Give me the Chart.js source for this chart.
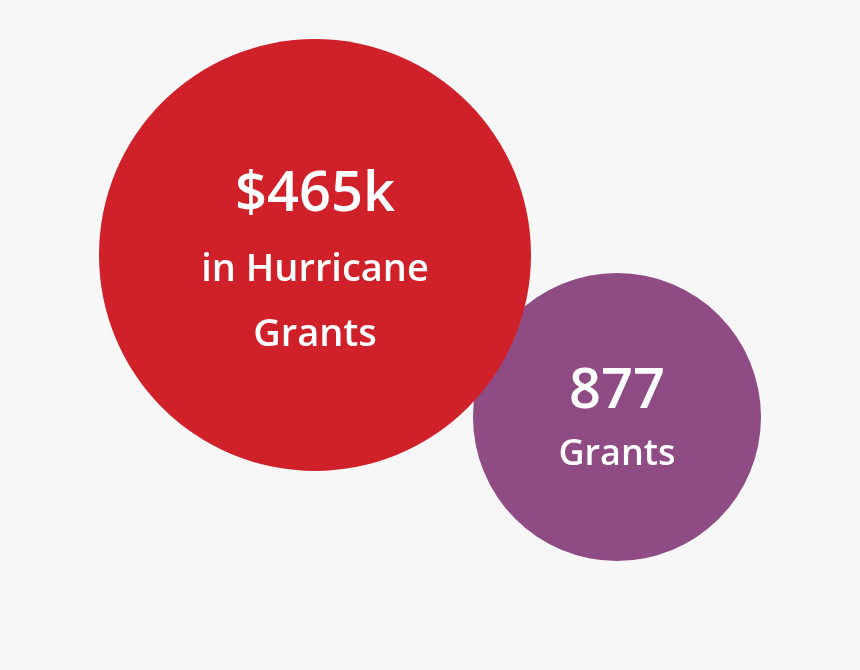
<!DOCTYPE html>
<html><head><meta charset="utf-8">
<script src="https://cdn.jsdelivr.net/npm/chart.js@4"></script>
<style>html,body{margin:0;background:#f7f7f7}#w{width:860px;height:670px}</style>
</head><body><div id="w"><canvas id="c"></canvas></div>
<script>
const names = ["Hurricane Grants", "Other", "Grants"];
const xs = [315, 483, 617];
const ys = [255, 556, 417];
const radii = [216, 74, 144];
const colors = ["#d0202a", "#a3b0bc", "rgba(116,31,101,0.8)"];
const labelLines = [["$465k", "in Hurricane", "Grants"], [], ["877", "Grants"]];
const lineOffsets = [[-60, 15, 80], [], [-25, 38]];
const lineSizes = [[56, 38, 38], [], [56, 36]];
const pad = Math.max(...radii);

const textPlugin = {
  id: 'txt',
  afterDatasetsDraw(chart) {
    const ctx = chart.ctx, sx = chart.scales.x, sy = chart.scales.y;
    ctx.save();
    ctx.fillStyle = '#fff';
    ctx.textAlign = 'center'; ctx.textBaseline = 'middle';
    names.forEach((n, i) => {
      labelLines[i].forEach((t, j) => {
        ctx.font = '600 ' + lineSizes[i][j] + 'px "Open Sans", sans-serif';
        ctx.fillText(t, sx.getPixelForValue(xs[i]), sy.getPixelForValue(ys[i] + lineOffsets[i][j]));
      });
    });
    ctx.restore();
  }
};

new Chart(document.getElementById('c'), {
  type: 'bubble',
  data: {
    datasets: names.map((n, i) => ({
      label: n,
      data: [{x: xs[i], y: ys[i], r: radii[i]}],
      backgroundColor: colors[i],
      borderWidth: 0,
      hoverBorderWidth: 0,
      clip: false
    }))
  },
  options: {
    responsive: true, maintainAspectRatio: false, animation: false,
    layout: {padding: 0},
    plugins: {legend: {display: false}, tooltip: {enabled: false}},
    scales: {
      x: {type: 'linear', min: pad, max: 860 - pad, display: false},
      y: {type: 'linear', min: pad, max: 670 - pad, reverse: true, display: false}
    }
  },
  plugins: [textPlugin]
});
</script></body></html>
